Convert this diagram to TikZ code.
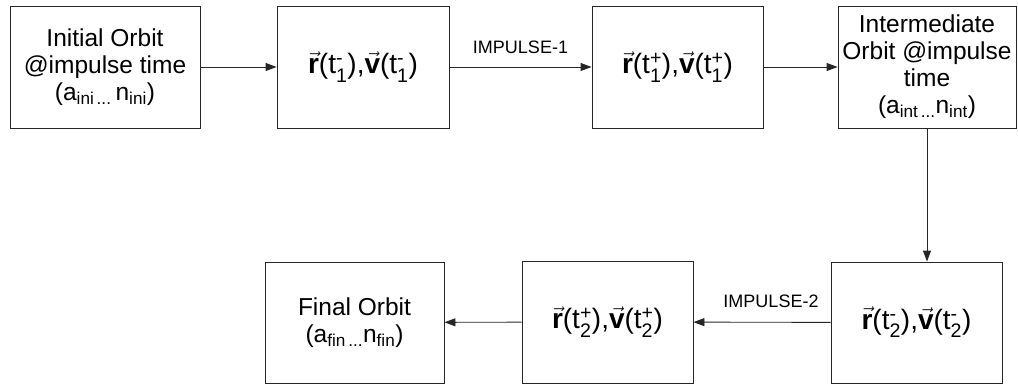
\documentclass[tikz,border=0pt]{standalone}
\usepackage{amsmath}
\usepackage{fontspec}
\setmainfont{Liberation Sans}
\usetikzlibrary{arrows.meta}
\newcommand\tv[2]{t$^{\text{#1}}_{\text{#2}}$}
\newcommand\vr{$\vec{\textbf{r}}$}
\newcommand\vv{$\vec{\textbf{v}}$}
\begin{document}
\begin{tikzpicture}[x=1pt,y=-1pt,
  box/.style={draw=black!85, line width=0.9pt, inner sep=0pt, align=center,
    font=\fontsize{24.5}{27}\selectfont},
  mbox/.style={box, font=\fontsize{28}{30}\selectfont},
  arr/.style={draw=black!85, line width=0.9pt, -{Triangle[length=11pt,width=8pt]}},
  lbl/.style={font=\fontsize{18}{20}\selectfont, inner sep=0pt}]
\useasboundingbox (0,0) rectangle (1018,385);
\node[box, minimum width=190pt, minimum height=122pt] (b1) at (105,67)
  {Initial Orbit\\@impulse time\\(a\textsubscript{ini\,...}\,n\textsubscript{ini})};
\node[mbox, minimum width=172pt, minimum height=122pt] (b2) at (363,67)
  {\vr(\tv{-}{1}),\vv(\tv{-}{1})};
\node[mbox, minimum width=171pt, minimum height=122pt] (b3) at (677.5,67)
  {\vr(\tv{+}{1}),\vv(\tv{+}{1})};
\node[box, minimum width=178pt, minimum height=122pt] (b4) at (927,67)
  {Intermediate\\Orbit @impulse\\time\\(a\textsubscript{int\,...}n\textsubscript{int})};
\node[mbox, minimum width=171pt, minimum height=121pt] (b5) at (916.5,322.5)
  {\vr(\tv{-}{2}),\vv(\tv{-}{2})};
\node[mbox, minimum width=171pt, minimum height=122pt] (b6) at (607.5,322)
  {\vr(\tv{+}{2}),\vv(\tv{+}{2})};
\node[box, minimum width=179pt, minimum height=121pt] (b7) at (354.5,322.5)
  {Final Orbit\\(a\textsubscript{fin\,...}n\textsubscript{fin})};
\draw[arr] (b1) -- (b2);
\draw[arr] (b2) -- node[lbl, midway, above=13pt] {IMPULSE-1} (b3);
\draw[arr] (b3) -- (b4);
\draw[arr] (b4.south) -- (b4.south |- b5.north);
\draw[arr] (b5) -- node[lbl, midway, above=14pt, xshift=9pt] {IMPULSE-2} (b6);
\draw[arr] (b6) -- (b7);
\end{tikzpicture}
\end{document}
